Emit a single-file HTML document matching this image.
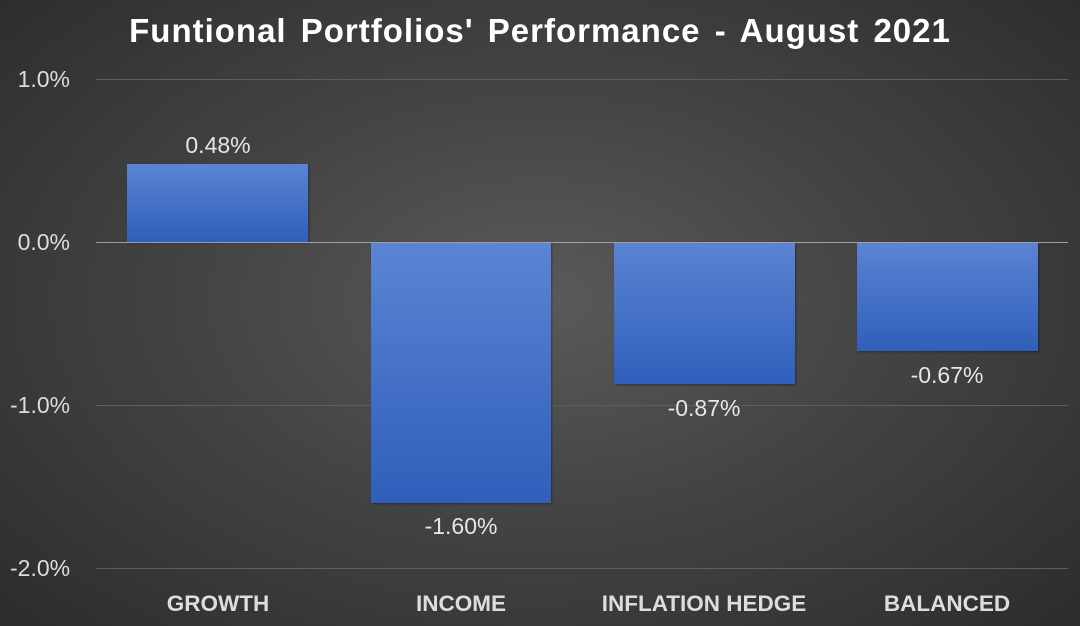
<!DOCTYPE html>
<html><head><style>
html,body{margin:0;padding:0}
body{width:1080px;height:626px;overflow:hidden;background:radial-gradient(ellipse 70% 75% at 50% 48%,#5a5a5a 0%,#444 45%,#2c2c2c 100%);font-family:"Liberation Sans",sans-serif;position:relative}
.t{position:absolute;color:#f2f2f2;white-space:nowrap}
.g{position:absolute;left:96px;width:972px;height:1px;background:#5e5e5e}
.b{position:absolute;background:linear-gradient(#5b84d3,#2f5fbb);box-shadow:1px 1px 2px rgba(0,0,0,.35)}
.yl{font-size:23px;left:10px;width:60px;text-align:right;color:#ddd}
.dl{font-size:23px;text-align:center;width:200px;color:#e6e6e6}
.xl{font-size:22.5px;font-weight:bold;text-align:center;width:260px;top:591px;color:#ddd}
</style></head><body>
<div class="t" style="left:0;width:1080px;text-align:center;top:12px;font-size:33px;font-weight:bold;color:#fff;letter-spacing:1px;word-spacing:4px">Funtional Portfolios' Performance - August 2021</div>
<div class="g" style="top:79px"></div>
<div class="g" style="top:405px"></div>
<div class="g" style="top:568px"></div>
<div class="t yl" style="top:66px">1.0%</div>
<div class="t yl" style="top:229px">0.0%</div>
<div class="t yl" style="top:392px">-1.0%</div>
<div class="t yl" style="top:555px">-2.0%</div>
<div class="b" style="left:127px;width:181px;top:164px;height:78px"></div>
<div class="b" style="left:371px;width:180px;top:242px;height:261px"></div>
<div class="b" style="left:614px;width:181px;top:242px;height:142px"></div>
<div class="b" style="left:857px;width:181px;top:242px;height:109px"></div>
<div class="g" style="top:242px;background:#a0a0a0"></div>
<div class="t dl" style="left:118px;top:132px">0.48%</div>
<div class="t dl" style="left:361px;top:513px">-1.60%</div>
<div class="t dl" style="left:604px;top:395px">-0.87%</div>
<div class="t dl" style="left:847px;top:362px">-0.67%</div>
<div class="t xl" style="left:88px">GROWTH</div>
<div class="t xl" style="left:331px">INCOME</div>
<div class="t xl" style="left:574px">INFLATION HEDGE</div>
<div class="t xl" style="left:817px">BALANCED</div>
</body></html>
